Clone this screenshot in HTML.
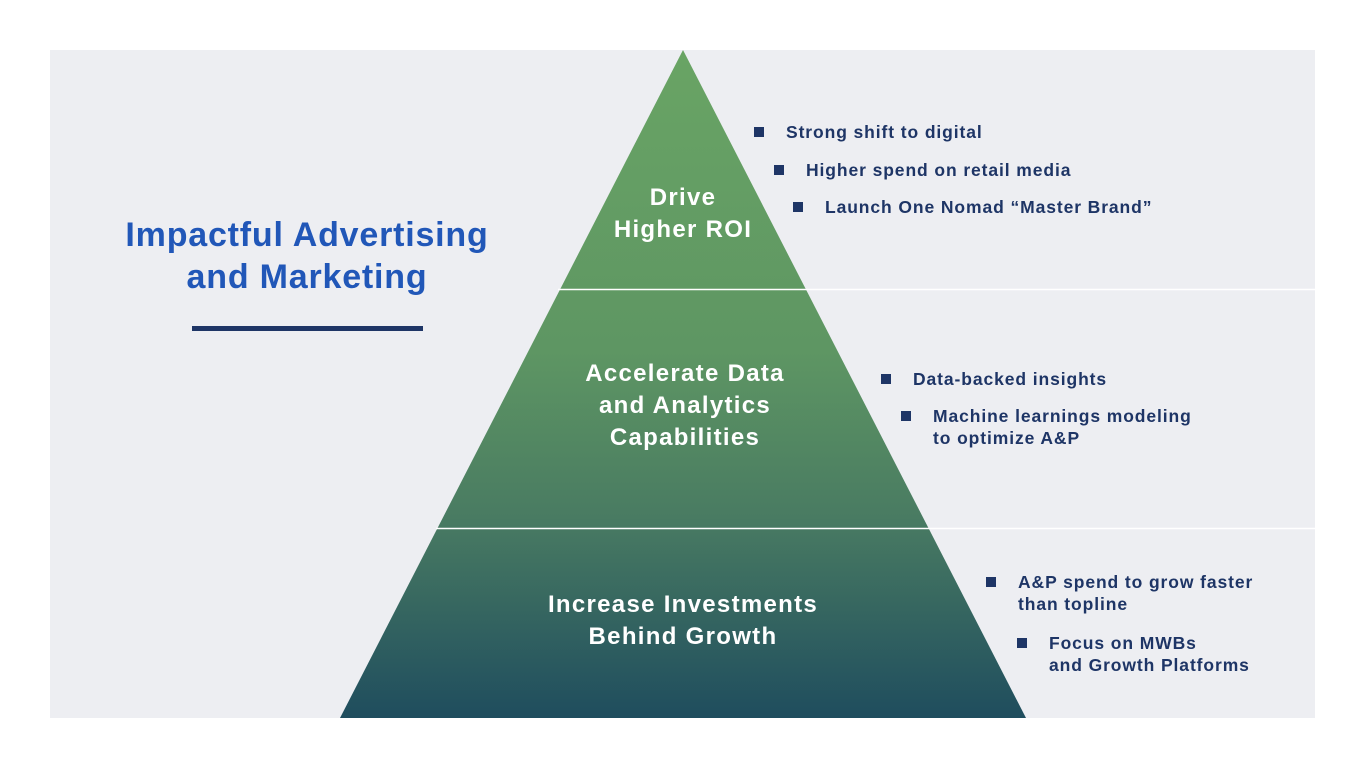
<!DOCTYPE html>
<html><head><meta charset="utf-8"><style>
body{margin:0;width:1365px;height:768px;background:#fff;position:relative;overflow:hidden;font-family:"Liberation Sans",sans-serif;font-weight:bold}
.t{position:absolute;white-space:nowrap}
.b{position:absolute;color:#1e3566;font-size:17.5px;line-height:22px;white-space:nowrap;letter-spacing:0.9px}
.b:before{content:"";position:absolute;left:-32px;top:6px;width:10px;height:10px;background:#1e3566}
.w{color:#fff;font-size:24px;line-height:32px;text-align:center;position:absolute;transform:translateX(-50%);letter-spacing:1.3px;white-space:nowrap}
</style></head><body>
<svg width="1365" height="768" style="position:absolute;left:0;top:0">
<defs><linearGradient id="g" x1="0" y1="50" x2="0" y2="718" gradientUnits="userSpaceOnUse">
<stop offset="0" stop-color="#69a464"/><stop offset="0.45" stop-color="#5e9663"/><stop offset="0.7" stop-color="#497b62"/><stop offset="1" stop-color="#1f4d5e"/></linearGradient></defs>
<rect x="50" y="50" width="1265" height="668" fill="#edeef2"/>
<polygon points="683,50 1026,718 340,718" fill="url(#g)"/>
<line x1="558" y1="289.5" x2="1315" y2="289.5" stroke="#fff" stroke-width="1.5"/>
<line x1="436" y1="528.5" x2="1315" y2="528.5" stroke="#fff" stroke-width="1.5"/>
<rect x="192" y="326" width="231" height="5" fill="#1e3566"/>
</svg>
<div class="t" style="left:307px;top:214px;transform:translateX(-50%);color:#2157b8;font-size:34px;line-height:42px;text-align:center;letter-spacing:0.8px">Impactful Advertising<br>and Marketing</div>
<div class="w" style="left:683px;top:182px">Drive<br>Higher ROI</div>
<div class="w" style="left:685px;top:358px">Accelerate Data<br>and Analytics<br>Capabilities</div>
<div class="w" style="left:683px;top:589px">Increase Investments<br>Behind Growth</div>
<div class="b" style="left:786px;top:121px">Strong shift to digital</div>
<div class="b" style="left:806px;top:159px">Higher spend on retail media</div>
<div class="b" style="left:825px;top:196px">Launch One Nomad “Master Brand”</div>
<div class="b" style="left:913px;top:368px">Data-backed insights</div>
<div class="b" style="left:933px;top:405px">Machine learnings modeling<br>to optimize A&amp;P</div>
<div class="b" style="left:1018px;top:571px">A&amp;P spend to grow faster<br>than topline</div>
<div class="b" style="left:1049px;top:632px">Focus on MWBs<br>and Growth Platforms</div>
</body></html>
